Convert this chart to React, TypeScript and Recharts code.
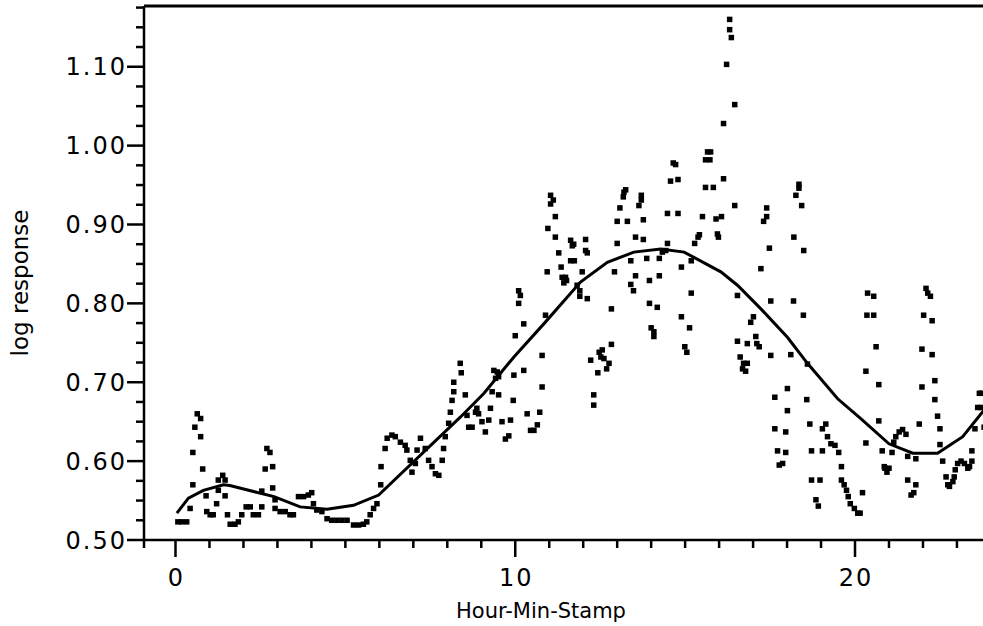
import { ComposedChart, Line, ReferenceLine, Scatter, XAxis, YAxis } from 'recharts';

// observed points (hour, log response)
const obsX = [
  0.07, 0.18, 0.33, 0.43, 0.51, 0.51, 0.57, 0.64, 0.74, 0.74, 0.8, 0.9, 0.92, 1.02, 1.11, 1.21, 1.26, 1.26, 1.39, 1.46,
  1.46, 1.53, 1.61, 1.75, 1.85, 1.95, 2.08, 2.2, 2.29, 2.44, 2.54, 2.54, 2.64, 2.69, 2.78, 2.86, 2.86, 2.93, 2.93, 3.08,
  3.23, 3.37, 3.47, 3.62, 3.77, 3.91, 4.01, 4.06, 4.16, 4.31, 4.46, 4.6, 4.75, 4.9, 5.05, 5.24, 5.39, 5.53, 5.63, 5.73,
  5.83, 5.93, 6.04, 6.05, 6.17, 6.23, 6.37, 6.47, 6.62, 6.76, 6.81, 6.91, 6.96, 7.06, 7.11, 7.21, 7.35, 7.45, 7.55, 7.65,
  7.75, 7.85, 7.89, 7.94, 8.04, 8.09, 8.14, 8.19, 8.19, 8.38, 8.41, 8.53, 8.58, 8.63, 8.73, 8.83, 8.87, 8.92, 9.02, 9.12,
  9.22, 9.27, 9.32, 9.37, 9.42, 9.47, 9.51, 9.51, 9.61, 9.71, 9.81, 9.86, 9.94, 9.96, 10.0, 10.1, 10.15, 10.1, 10.25, 10.25,
  10.35, 10.45, 10.55, 10.65, 10.72, 10.79, 10.79, 10.89, 10.94, 10.96, 11.04, 11.12, 11.04, 11.18, 11.18, 11.28, 11.35, 11.38, 11.48, 11.43,
  11.51, 11.63, 11.72, 11.68, 11.63, 11.74, 11.82, 11.9, 11.9, 12.07, 12.07, 12.12, 11.97, 12.12, 12.22, 12.31, 12.31, 12.43, 12.47, 12.56,
  12.52, 12.61, 12.76, 12.69, 12.83, 12.83, 12.92, 13.0, 13.0, 13.3, 13.08, 13.18, 13.25, 13.2, 13.4, 13.4, 13.48, 13.54, 13.54, 13.64,
  13.71, 13.71, 13.77, 13.77, 13.87, 13.95, 13.95, 14.18, 14.0, 14.08, 14.08, 14.24, 14.24, 14.33, 14.43, 14.48, 14.48, 14.79, 14.57, 14.79,
  14.65, 14.72, 14.89, 14.89, 14.99, 15.05, 15.13, 15.18, 15.18, 15.28, 15.38, 15.42, 15.51, 15.6, 15.83, 15.6, 15.73, 15.66, 15.75, 15.91,
  16.07, 15.95, 15.98, 16.13, 16.13, 16.22, 16.31, 16.31, 16.36, 16.46, 16.46, 16.54, 16.62, 16.72, 16.69, 16.78, 16.83, 16.54, 16.83, 16.93,
  17.01, 17.08, 17.11, 17.18, 17.23, 17.31, 17.4, 17.4, 17.48, 17.52, 17.52, 17.64, 17.64, 17.72, 17.77, 17.87, 17.96, 17.96, 18.01, 18.01,
  18.11, 18.19, 18.2, 18.26, 18.35, 18.35, 18.43, 18.48, 18.49, 18.58, 18.6, 18.67, 18.72, 18.72, 18.85, 18.92, 18.97, 19.04, 19.04, 19.14,
  19.19, 19.29, 19.41, 19.52, 19.6, 19.6, 19.68, 19.75, 19.8, 19.86, 19.98, 20.08, 20.15, 20.22, 20.32, 20.32, 20.37, 20.55, 20.35, 20.55,
  20.62, 20.7, 20.7, 20.8, 21.09, 20.86, 20.88, 20.94, 21.0, 21.14, 21.2, 21.3, 21.4, 21.5, 21.55, 21.79, 21.55, 21.79, 21.65, 21.73,
  21.89, 21.97, 21.97, 22.02, 22.09, 22.14, 22.22, 22.27, 22.27, 22.35, 22.35, 22.43, 22.5, 22.5, 22.58, 22.68, 22.73, 22.78, 22.88, 22.92,
  22.95, 23.02, 23.12, 23.22, 23.32, 23.37, 23.44, 23.44, 23.53, 23.61, 23.71, 23.66, 23.73, 23.8,
];
const obsY = [
  0.523, 0.523, 0.523, 0.54, 0.57, 0.611, 0.643, 0.66, 0.654, 0.631, 0.59, 0.556, 0.536, 0.532, 0.532, 0.546, 0.563, 0.576, 0.582, 0.576,
  0.556, 0.532, 0.52, 0.52, 0.523, 0.532, 0.542, 0.542, 0.532, 0.532, 0.542, 0.562, 0.59, 0.616, 0.611, 0.593, 0.566, 0.551, 0.54, 0.536,
  0.536, 0.532, 0.532, 0.555, 0.555, 0.557, 0.56, 0.546, 0.538, 0.536, 0.527, 0.525, 0.525, 0.525, 0.525, 0.519, 0.519, 0.52, 0.523, 0.532,
  0.54, 0.546, 0.57, 0.593, 0.616, 0.629, 0.633, 0.631, 0.624, 0.62, 0.614, 0.601, 0.586, 0.597, 0.614, 0.629, 0.616, 0.601, 0.593, 0.584,
  0.582, 0.601, 0.616, 0.631, 0.648, 0.662, 0.677, 0.688, 0.7, 0.724, 0.712, 0.684, 0.658, 0.643, 0.643, 0.662, 0.667, 0.66, 0.65, 0.637,
  0.652, 0.667, 0.688, 0.715, 0.705, 0.713, 0.707, 0.684, 0.65, 0.628, 0.632, 0.652, 0.677, 0.709, 0.759, 0.816, 0.81, 0.8, 0.774, 0.715,
  0.66, 0.639, 0.639, 0.646, 0.662, 0.694, 0.734, 0.785, 0.84, 0.895, 0.937, 0.931, 0.926, 0.91, 0.884, 0.864, 0.846, 0.833, 0.833, 0.826,
  0.829, 0.88, 0.875, 0.873, 0.854, 0.854, 0.823, 0.816, 0.809, 0.881, 0.867, 0.864, 0.84, 0.806, 0.728, 0.684, 0.671, 0.712, 0.738, 0.741,
  0.732, 0.73, 0.724, 0.717, 0.793, 0.748, 0.84, 0.876, 0.904, 0.904, 0.921, 0.935, 0.944, 0.941, 0.854, 0.824, 0.816, 0.884, 0.835, 0.924,
  0.937, 0.931, 0.906, 0.881, 0.857, 0.829, 0.8, 0.795, 0.769, 0.764, 0.758, 0.835, 0.857, 0.865, 0.867, 0.876, 0.914, 0.914, 0.955, 0.957,
  0.978, 0.976, 0.846, 0.783, 0.745, 0.738, 0.769, 0.854, 0.813, 0.876, 0.884, 0.887, 0.91, 0.947, 0.947, 0.982, 0.982, 0.992, 0.992, 0.907,
  0.91, 0.888, 0.884, 0.958, 1.028, 1.103, 1.16, 1.147, 1.137, 1.052, 0.924, 0.81, 0.732, 0.724, 0.717, 0.714, 0.724, 0.752, 0.749, 0.776,
  0.783, 0.758, 0.749, 0.745, 0.844, 0.904, 0.921, 0.91, 0.87, 0.803, 0.734, 0.681, 0.641, 0.613, 0.595, 0.597, 0.637, 0.611, 0.692, 0.664,
  0.735, 0.803, 0.884, 0.937, 0.951, 0.946, 0.924, 0.785, 0.867, 0.678, 0.723, 0.647, 0.613, 0.576, 0.551, 0.543, 0.576, 0.613, 0.641, 0.647,
  0.631, 0.622, 0.62, 0.611, 0.593, 0.576, 0.57, 0.563, 0.555, 0.546, 0.54, 0.534, 0.534, 0.56, 0.714, 0.623, 0.813, 0.809, 0.785, 0.785,
  0.745, 0.697, 0.651, 0.613, 0.611, 0.593, 0.591, 0.586, 0.591, 0.624, 0.631, 0.637, 0.64, 0.634, 0.606, 0.603, 0.576, 0.57, 0.557, 0.56,
  0.647, 0.694, 0.742, 0.785, 0.819, 0.813, 0.809, 0.778, 0.735, 0.702, 0.678, 0.657, 0.641, 0.621, 0.6, 0.58, 0.57, 0.568, 0.574, 0.58,
  0.589, 0.597, 0.6, 0.597, 0.591, 0.593, 0.6, 0.613, 0.641, 0.668, 0.668, 0.686, 0.686, 0.643,
];

// smooth fit
const fitX = [0.04, 0.38, 0.82, 1.41, 1.6, 2.9, 3.67, 4.46, 5.24, 5.98, 8.39, 9.08, 9.96, 10.84, 11.92, 12.71, 13.49, 14.28, 14.97, 16.05, 16.54, 17.23, 18.01, 18.6, 19.49, 20.17, 21.0, 21.7, 22.43, 23.17, 23.8];
const fitY = [0.534, 0.553, 0.563, 0.57, 0.569, 0.555, 0.542, 0.539, 0.544, 0.557, 0.656, 0.686, 0.732, 0.774, 0.827, 0.852, 0.865, 0.869, 0.865, 0.84, 0.823, 0.793, 0.757, 0.724, 0.679, 0.654, 0.622, 0.61, 0.61, 0.631, 0.665];

const xTicks = [0, 1, 2, 3, 4, 5, 6, 7, 8, 9, 10, 11, 12, 13, 14, 15, 16, 17, 18, 19, 20, 21, 22, 23];
const xLabelled = [0, 10, 20];
const yTicks = [0.5, 0.525, 0.55, 0.575, 0.6, 0.625, 0.65, 0.675, 0.7, 0.725, 0.75, 0.775, 0.8, 0.825, 0.85, 0.875, 0.9, 0.925, 0.95, 0.975, 1.0, 1.025, 1.05, 1.075, 1.1, 1.125, 1.15, 1.175];
const yLabelled = [0.5, 0.6, 0.7, 0.8, 0.9, 1.0, 1.1];

const xDomain: [number, number] = [-0.927, 23.767];
const yDomain: [number, number] = [0.5, 1.177];

const observed = obsX.map((x, i) => ({ x, y: obsY[i] }));
const fitted = fitX.map((x, i) => ({ x, y: fitY[i] }));

const font = '"DejaVu Sans", Verdana, sans-serif';

function YTick({ x, y, payload }: any) {
  const major = yLabelled.includes(payload.value);
  return (
    <g>
      <line x1={x - (major ? 17 : 8)} x2={x} y1={y} y2={y} stroke="#000" strokeWidth={2.5} />
      {major && (
        <text x={x - 17} y={y} dy="0.36em" textAnchor="end" fontFamily={font} fontSize={24} letterSpacing={2} fill="#000">
          {payload.value.toFixed(2)}
        </text>
      )}
    </g>
  );
}

function XTick({ x, y, payload }: any) {
  const major = xLabelled.includes(payload.value);
  return (
    <g>
      <line x1={x} x2={x} y1={y} y2={y + (major ? 17 : 8)} stroke="#000" strokeWidth={2.5} />
      {major && (
        <text x={x + 1} y={y + 29} dy="0.71em" textAnchor="middle" fontFamily={font} fontSize={24} letterSpacing={2} fill="#000">
          {payload.value}
        </text>
      )}
    </g>
  );
}

const Square = ({ cx, cy }: any) => <rect x={cx - 2.75} y={cy - 2.75} width={5.5} height={5.5} fill="#000" />;

export default function App() {
  return (
    <div style={{ position: 'absolute', left: 0, top: 0, width: 983, height: 626, background: '#fff' }}>
      <ComposedChart width={983} height={626} margin={{ top: 6, right: 0, bottom: 0, left: 0 }}>
        <XAxis
          dataKey="x"
          type="number"
          domain={xDomain}
          allowDataOverflow
          ticks={[xDomain[0], ...xTicks]}
          interval={0}
          height={86}
          tickSize={0}
          tickMargin={0}
          tickLine={false}
          tick={<XTick />}
          axisLine={{ stroke: '#000', strokeWidth: 2.5 }}
        />
        <YAxis
          dataKey="y"
          type="number"
          domain={yDomain}
          allowDataOverflow
          ticks={yTicks}
          interval={0}
          width={144}
          tickSize={0}
          tickMargin={0}
          tickLine={false}
          tick={<YTick />}
          axisLine={{ stroke: '#000', strokeWidth: 2.5 }}
        />
        <ReferenceLine y={yDomain[1]} stroke="#000" strokeWidth={3} />
        <Scatter data={observed} dataKey="y" shape={Square} isAnimationActive={false} />
        <Line data={fitted} dataKey="y" type="linear" stroke="#000" strokeWidth={3} dot={false} isAnimationActive={false} />
      </ComposedChart>
      <svg width={983} height={626} style={{ position: 'absolute', left: 0, top: 0, pointerEvents: 'none' }}>
        <text x={541} y={618} textAnchor="middle" fontFamily={font} fontSize={21} fill="#000">Hour-Min-Stamp</text>
        <text transform="translate(28,283) rotate(-90)" textAnchor="middle" fontFamily={font} fontSize={23} fill="#000">log response</text>
      </svg>
    </div>
  );
}
